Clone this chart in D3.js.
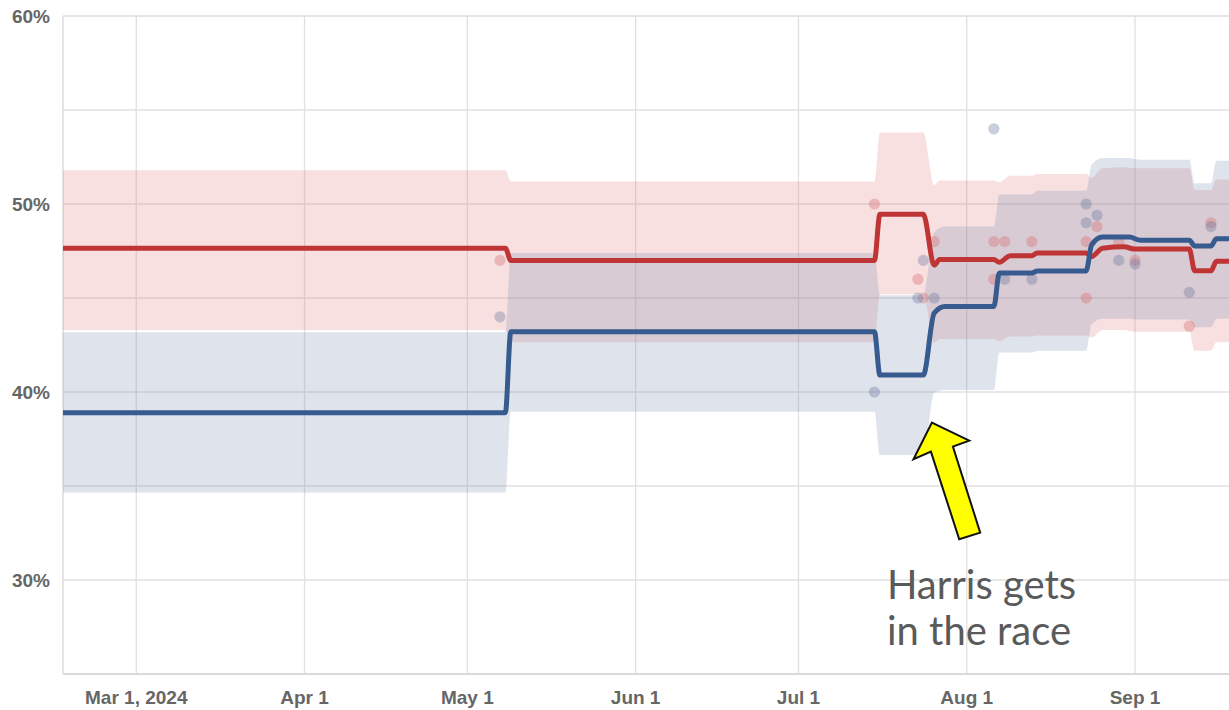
<!DOCTYPE html>
<html><head><meta charset="utf-8">
<script src="https://cdn.jsdelivr.net/npm/d3@7"></script>
<style>html,body{margin:0;padding:0;background:#fff;} svg{display:block;}</style>
</head><body><svg id="chart" width="1229" height="710"></svg>
<script>
// ---- data ----
const redDates = ["2024-02-16","2024-05-08","2024-05-09","2024-07-15","2024-07-16","2024-07-24","2024-07-26","2024-07-27","2024-08-06","2024-08-07","2024-08-09","2024-08-13","2024-08-14","2024-08-23","2024-08-24","2024-08-26","2024-08-30","2024-09-01","2024-09-11","2024-09-12","2024-09-15","2024-09-16","2024-09-30"];
const redMean  = [47.65,47.65,47.0,47.0,49.45,49.45,46.75,47.05,47.05,46.9,47.25,47.25,47.4,47.4,47.2,47.65,47.72,47.6,47.6,46.45,46.45,46.95,46.95];
const redLow   = [43.3,43.3,42.65,42.65,45.2,45.2,42.6,42.8,42.8,42.7,42.95,42.95,43.0,43.0,42.9,43.3,43.3,43.2,43.2,42.2,42.2,42.65,42.65];
const redHigh  = [51.8,51.8,51.2,51.2,53.8,53.8,51.0,51.25,51.25,51.15,51.5,51.5,51.6,51.6,51.4,51.9,51.95,51.9,51.9,50.75,50.75,51.3,51.3];

const blueDates = ["2024-02-16","2024-05-08","2024-05-09","2024-07-15","2024-07-16","2024-07-24","2024-07-26","2024-07-28","2024-08-06","2024-08-07","2024-08-13","2024-08-14","2024-08-23","2024-08-24","2024-08-26","2024-08-31","2024-09-02","2024-09-11","2024-09-12","2024-09-15","2024-09-16","2024-09-30"];
const blueMean  = [38.9,38.9,43.2,43.2,40.9,40.9,44.2,44.55,44.55,46.33,46.33,46.44,46.44,47.82,48.24,48.24,48.07,48.07,47.77,47.77,48.15,48.15];
const blueLow   = [34.65,34.65,38.95,38.95,36.65,36.65,39.95,40.1,40.1,42.1,42.1,42.2,42.2,43.6,43.9,43.9,43.85,43.85,43.45,43.45,43.9,43.9];
const blueHigh  = [43.18,43.18,47.4,47.4,45.15,45.15,48.5,48.8,48.8,50.5,50.5,50.7,50.7,52.1,52.45,52.45,52.35,52.35,51.1,51.1,52.3,52.3];

const redPollDates  = ["2024-05-07","2024-07-15","2024-07-23","2024-07-24","2024-07-26","2024-08-06","2024-08-06","2024-08-08","2024-08-13","2024-08-23","2024-08-23","2024-08-25","2024-08-29","2024-09-01","2024-09-11","2024-09-15"];
const redPollValues = [47.0,50.0,46.0,45.0,48.0,48.0,46.0,48.0,48.0,48.0,45.0,48.8,48.0,47.0,43.5,49.0];
const bluePollDates  = ["2024-05-07","2024-07-15","2024-07-23","2024-07-24","2024-07-26","2024-08-06","2024-08-08","2024-08-13","2024-08-23","2024-08-23","2024-08-25","2024-08-29","2024-09-01","2024-09-11","2024-09-15"];
const bluePollValues = [44.0,40.0,45.0,47.0,45.0,54.0,46.0,46.0,50.0,49.0,49.4,47.0,46.8,45.3,48.8];

const yTickValues = [30,40,50,60];
const yGridValues = [30,35,40,45,50,55];
const xTickDates = ["2024-03-01","2024-04-01","2024-05-01","2024-06-01","2024-07-01","2024-08-01","2024-09-01"];
const annotationLines = ["Harris gets","in the race"];
const annotationDate = "2024-07-25";
const annotationValue = 38.37;

// ---- drawing ----
const parse = d3.timeParse("%Y-%m-%d");
const svg = d3.select("#chart");
const W = 1229, H = 710;
const pLeft = 63, pTop = 16, pBottom = 674, pRight = 1300;

const x = d3.scaleTime()
  .domain([new Date(2024,1,16,12), new Date(2024,8,1)])
  .range([pLeft, 1135]);
const y = d3.scaleLinear().domain([25,60]).range([pBottom, pTop]);

svg.append("rect").attr("width",W).attr("height",H).attr("fill","#fff");

svg.append("defs").append("clipPath").attr("id","plotclip")
  .append("rect").attr("x",pLeft).attr("y",pTop).attr("width",pRight-pLeft).attr("height",pBottom-pTop);

const grid = svg.append("g");
grid.selectAll("line.h").data(yGridValues).join("line")
  .attr("x1",pLeft).attr("x2",W).attr("y1",d=>y(d)).attr("y2",d=>y(d))
  .attr("stroke","#e0e0e0").attr("stroke-width",1.3);
const xTicks = xTickDates.map(parse);
grid.selectAll("line.v").data(xTicks).join("line")
  .attr("x1",d=>x(d)).attr("x2",d=>x(d)).attr("y1",pTop).attr("y2",pBottom)
  .attr("stroke","#e0e0e0").attr("stroke-width",1.3);
grid.append("line").attr("x1",pLeft).attr("x2",W).attr("y1",pTop).attr("y2",pTop).attr("stroke","#dcdcdc").attr("stroke-width",1.5);
grid.append("line").attr("x1",pLeft).attr("x2",pLeft).attr("y1",pTop).attr("y2",pBottom).attr("stroke","#dcdcdc").attr("stroke-width",1.5);

const plot = svg.append("g").attr("clip-path","url(#plotclip)");

function series(dates, mean, lo, hi){
  return dates.map((d,i)=>({date:parse(d), mean:mean[i], lo:lo[i], hi:hi[i]}));
}
const red = series(redDates, redMean, redLow, redHigh);
const blue = series(blueDates, blueMean, blueLow, blueHigh);

const area = d3.area().x(d=>x(d.date)).y0(d=>y(d.lo)).y1(d=>y(d.hi)).curve(d3.curveMonotoneX);
plot.append("path").datum(red).attr("d",area).attr("fill","rgb(222,112,112)").attr("fill-opacity",0.22);
plot.append("path").datum(blue).attr("d",area).attr("fill","rgb(118,136,172)").attr("fill-opacity",0.23);

const redPolls = redPollDates.map((d,i)=>({date:parse(d), v:redPollValues[i]}));
const bluePolls = bluePollDates.map((d,i)=>({date:parse(d), v:bluePollValues[i]}));
plot.selectAll("circle.r").data(redPolls).join("circle")
  .attr("cx",d=>x(d.date)).attr("cy",d=>y(d.v)).attr("r",5.6)
  .attr("fill","rgb(214,104,110)").attr("fill-opacity",0.36);
plot.selectAll("circle.b").data(bluePolls).join("circle")
  .attr("cx",d=>x(d.date)).attr("cy",d=>y(d.v)).attr("r",5.6)
  .attr("fill","rgb(105,118,160)").attr("fill-opacity",0.36);

const line = d3.line().x(d=>x(d.date)).y(d=>y(d.mean)).curve(d3.curveMonotoneX);
plot.append("path").datum(red).attr("d",line).attr("fill","none")
  .attr("stroke","#bf3434").attr("stroke-width",5).attr("stroke-linejoin","round");
plot.append("path").datum(blue).attr("d",line).attr("fill","none")
  .attr("stroke","#375a8f").attr("stroke-width",5).attr("stroke-linejoin","round");

svg.append("line").attr("x1",pLeft).attr("x2",W).attr("y1",pBottom).attr("y2",pBottom)
  .attr("stroke","#dadada").attr("stroke-width",2);

const fmtFirst = d3.timeFormat("%b %-d, %Y"), fmt = d3.timeFormat("%b %-d");
svg.append("g").selectAll("text").data(xTicks).join("text")
  .attr("x",d=>x(d)).attr("y",704)
  .attr("text-anchor","middle")
  .attr("font-family","'Liberation Sans', Arial, sans-serif")
  .attr("font-weight","bold").attr("font-size",19).attr("fill","#666")
  .text((d,i)=> i===0 ? fmtFirst(d) : fmt(d));

svg.append("g").selectAll("text").data(yTickValues).join("text")
  .attr("x",50).attr("y",d=>y(d)+6.5)
  .attr("text-anchor","end")
  .attr("font-family","'Liberation Sans', Arial, sans-serif")
  .attr("font-weight","bold").attr("font-size",19).attr("fill","#666")
  .text(d=>d+"%");

const tipX = x(d3.timeHour.offset(parse(annotationDate), 14));
const tipY = y(annotationValue);
const arrowPts = [[0,0],[37.3,18],[21,24],[48.3,110],[27.3,116.6],[-1,29],[-18.4,36.6]];
svg.append("polygon")
  .attr("points", arrowPts.map(p=>[tipX+p[0], tipY+p[1]].join(",")).join(" "))
  .attr("fill","#ffff00").attr("stroke","#111").attr("stroke-width",2).attr("stroke-linejoin","miter");

svg.append("g").selectAll("text").data(annotationLines).join("text")
  .attr("x", tipX-45).attr("y",(d,i)=> tipY+176+i*46)
  .attr("font-family","Lato, sans-serif").attr("font-size",40).attr("fill","#5a5a5a")
  .text(d=>d);
</script>
</body></html>
